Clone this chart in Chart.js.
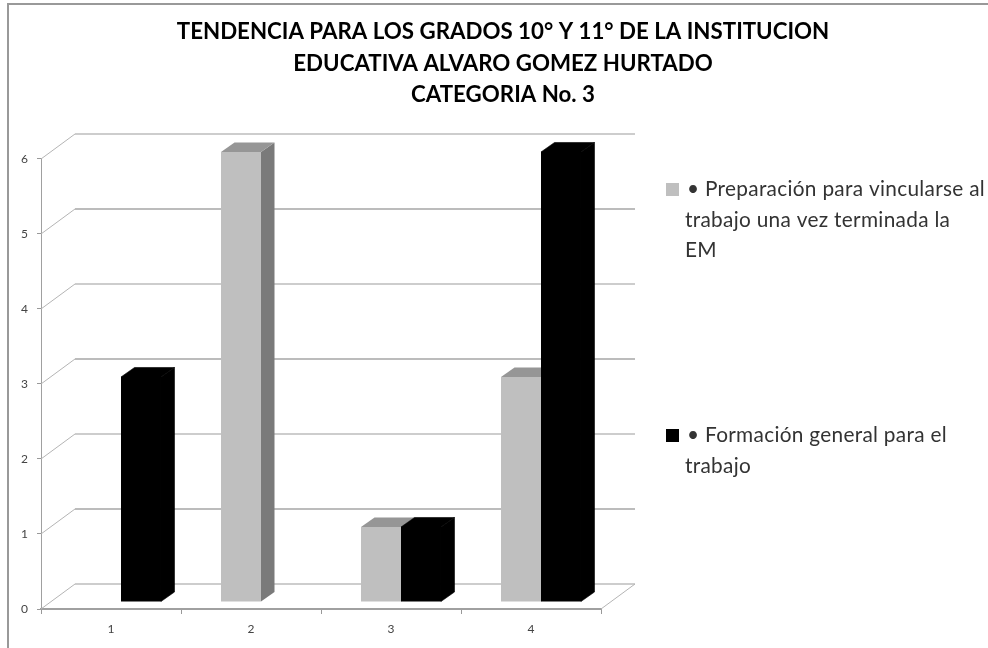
<!DOCTYPE html>
<html>
<head>
<meta charset="utf-8">
<script src="https://cdn.jsdelivr.net/npm/chart.js@4"></script>
<style>
html,body{margin:0;padding:0;background:#fff}
#wrap{position:relative;width:988px;height:648px;overflow:hidden}
canvas{position:absolute;left:0;top:0}
#edgeT{position:absolute;left:7px;right:0;top:3px;height:2px;background:#999}
#edgeL{position:absolute;left:7px;top:3px;bottom:0;width:2px;background:#999}
</style>
</head>
<body>
<div id="wrap"><canvas id="c" width="988" height="648"></canvas><div id="edgeT"></div><div id="edgeL"></div></div>
<script>
const categories = ['1', '2', '3', '4'];
const preparacion = [0, 6, 1, 3];
const formacion = [3, 0, 1, 6];
const titleLines = [
  'TENDENCIA PARA LOS GRADOS 10° Y 11° DE LA INSTITUCION',
  'EDUCATIVA ALVARO GOMEZ HURTADO',
  'CATEGORIA No. 3'
];
const legendPreparacion = ['• Preparación para vincularse al', 'trabajo una vez terminada la', 'EM'];
const legendFormacion = ['• Formación general para el', 'trabajo'];

const WALL = {dx: 34, dy: -25};
const BAR_SHIFT = {dx: 10, dy: -7};
const BAR_DEPTH = {dx: 13.5, dy: -9.5};
const FONT = 'Lato, Carlito, "Open Sans", sans-serif';

function poly(ctx, pts, fill, seal) {
  ctx.beginPath();
  pts.forEach((p, i) => i ? ctx.lineTo(p[0], p[1]) : ctx.moveTo(p[0], p[1]));
  ctx.closePath();
  ctx.fillStyle = fill;
  ctx.fill();
  if (seal) {
    ctx.strokeStyle = fill;
    ctx.lineWidth = 0.6;
    ctx.stroke();
  }
}

const faux3d = {
  id: 'faux3d',
  beforeDatasetsDraw(chart) {
    const ctx = chart.ctx, {x, y} = chart.scales;
    ctx.save();
    y.ticks.forEach((t, i) => {
      const py = y.getPixelForTick(i);
      ctx.beginPath();
      ctx.strokeStyle = '#b4b4b4';
      ctx.lineWidth = 1;
      ctx.moveTo(x.left, py);
      ctx.lineTo(x.left + WALL.dx, py + WALL.dy);
      ctx.stroke();
      ctx.beginPath();
      ctx.strokeStyle = i % 2 ? '#a6a6a6' : '#bcbcbc';
      ctx.lineWidth = 1.6;
      ctx.moveTo(x.left + WALL.dx, py + WALL.dy);
      ctx.lineTo(x.right + WALL.dx, py + WALL.dy);
      ctx.stroke();
    });
    ctx.beginPath();
    ctx.strokeStyle = '#b4b4b4';
    ctx.lineWidth = 1;
    ctx.moveTo(x.right, y.bottom);
    ctx.lineTo(x.right + WALL.dx, y.bottom + WALL.dy);
    ctx.stroke();
    ctx.restore();

    ctx.save();
    ctx.translate(BAR_SHIFT.dx, BAR_SHIFT.dy);
    const d = BAR_DEPTH;
    const faces = [['#7a7a7a', '#969696', false], ['#000000', '#000000', true]];
    chart.data.datasets.forEach((ds, di) => {
      chart.getDatasetMeta(di).data.forEach(b => {
        if (Math.abs(b.base - b.y) < 1) return;
        const l = b.x - b.width / 2, r = b.x + b.width / 2;
        poly(ctx, [[r, b.y], [r + d.dx, b.y + d.dy], [r + d.dx, b.base + d.dy], [r, b.base]], faces[di][0], faces[di][2]);
        poly(ctx, [[l, b.y], [l + d.dx, b.y + d.dy], [r + d.dx, b.y + d.dy], [r, b.y]], faces[di][1], faces[di][2]);
      });
    });
  },
  afterDatasetsDraw(chart) {
    chart.ctx.restore();
  }
};

const sideLegend = {
  id: 'sideLegend',
  afterDraw(chart) {
    const ctx = chart.ctx;
    ctx.save();
    ctx.textBaseline = 'alphabetic';
    ctx.textAlign = 'left';
    ctx.font = '20.8px ' + FONT;
    ctx.letterSpacing = '0.3px';
    const items = [[legendPreparacion, 0, 196], [legendFormacion, 1, 442]];
    items.forEach(([lines, di, base]) => {
      ctx.fillStyle = chart.data.datasets[di].backgroundColor;
      ctx.fillRect(666, base - 13, 13, 13);
      ctx.fillStyle = '#333333';
      lines.forEach((s, i) => ctx.fillText(s, i ? 685 : 687, base + i * 30.5));
    });
    ctx.restore();
  }
};

new Chart(document.getElementById('c'), {
  type: 'bar',
  data: {
    labels: categories,
    datasets: [
      {label: legendPreparacion.join(' '), data: preparacion, backgroundColor: '#bfbfbf', categoryPercentage: 0.5714, barPercentage: 1},
      {label: legendFormacion.join(' '), data: formacion, backgroundColor: '#000000', categoryPercentage: 0.5714, barPercentage: 1}
    ]
  },
  options: {
    responsive: false,
    animation: false,
    layout: {padding: {left: 18, right: 0, top: 0, bottom: 0}},
    plugins: {
      legend: {display: false},
      tooltip: {enabled: false},
      title: {
        display: true,
        text: titleLines,
        color: '#000',
        font: {family: FONT, size: 22.3, weight: 'bold', lineHeight: 1.42},
        padding: {top: 16, bottom: 48}
      }
    },
    scales: {
      x: {
        afterFit(s) { s.height = 39; },
        grid: {display: true, drawOnChartArea: false, tickLength: 5, color: '#999999'},
        border: {color: '#a0a0a0', width: 2},
        ticks: {color: '#444', font: {family: FONT, size: 12}, padding: 8, maxRotation: 0}
      },
      y: {
        min: 0, max: 6,
        afterFit(s) { s.width = 23; },
        grid: {display: true, drawOnChartArea: false, tickLength: 4, color: '#999999'},
        border: {color: '#a0a0a0', width: 1},
        ticks: {stepSize: 1, color: '#444', font: {family: FONT, size: 12}, padding: 9}
      },
      pad: {
        type: 'linear',
        position: 'right',
        afterFit(s) { s.width = 387; },
        grid: {display: false},
        border: {display: false},
        ticks: {display: false}
      }
    }
  },
  plugins: [faux3d, sideLegend]
});
</script>
</body>
</html>
